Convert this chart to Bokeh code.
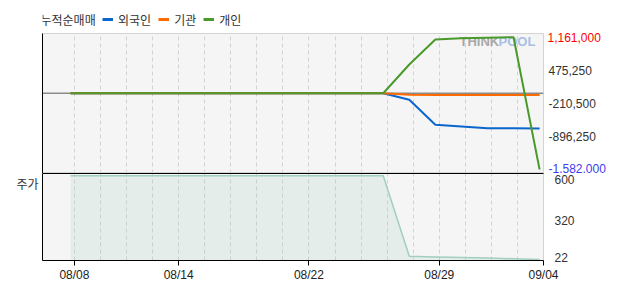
import numpy as np
from bokeh.plotting import figure
from bokeh.layouts import column
from bokeh.models import (Range1d, LinearAxis, FixedTicker, Span, Label, Legend,
                          LegendItem, Grid, NumeralTickFormatter)
from bokeh.embed import file_html
from bokeh.resources import INLINE

# ---------------- data ----------------
dates = ["08/08", "08/11", "08/12", "08/13", "08/14", "08/18", "08/19", "08/20",
         "08/21", "08/22", "08/25", "08/26", "08/27", "08/28", "08/29", "09/01",
         "09/02", "09/03", "09/04"]
labeled_dates = ["08/08", "08/14", "08/22", "08/29", "09/04"]

foreign = [0, 0, 0, 0, 0, 0, 0, 0, 0, 0, 0, 0, 0,
           -136000, -655000, -690000, -725000, -725000, -731000]
institution = [0, 0, 0, 0, 0, 0, 0, 0, 0, 0, 0, 0, 0,
               -30000, -36000, -38000, -38000, -38000, -38000]
individual = [0, 0, 0, 0, 0, 0, 0, 0, 0, 0, 0, 0, 0,
              596000, 1115000, 1142000, 1152000, 1161000, -1582000]
price = [600, 600, 600, 600, 600, 600, 600, 600, 600, 600, 600, 600, 600,
         44, 40, 36, 32, 27, 22]
price_ticks = [600, 320, 22]

series_names = ["외국인", "기관", "개인"]
title_text = "누적순매매"
price_title = "주가"

# ---------------- style / layout ----------------
KR = "Noto Sans CJK KR"
NUM = "Liberation Sans"
BLUE, ORANGE, GREEN = "#0a66cc", "#ff6a00", "#4a9a2b"
COLORS = [BLUE, ORANGE, GREEN]
BG = "#f5f5f5"
GRID = "#d2d2d2"
PRICE_C = "#a0cfbf"
TICK_OFF = 0.15
W, LEFT, RIGHT = 617, 42, 74
HEAD_H = 30                 # header strip (title + legend)
P1_H, P1_TOP = 143, 3       # upper panel canvas; frame starts 3px down
P2_H, P2_BOTTOM = 119, 32

x = list(range(len(dates)))
xr = Range1d(-1.075, len(dates) - 1 + TICK_OFF)
series = [foreign, institution, individual]

all_flow = foreign + institution + individual
fmax, fmin = max(all_flow), min(all_flow)
fspan = fmax - fmin
flow_range = Range1d(fmin - fspan * 0.030, fmax + fspan * 0.0285)
flow_ticks = list(np.linspace(fmax, fmin, 5))

pmax, pmin = max(price), min(price)
pspan = pmax - pmin
price_range = Range1d(pmin - pspan * 0.012, pmax + pspan * 0.026)

grid_ticks = [i + TICK_OFF for i in x]
label_ticks = [dates.index(d) + TICK_OFF for d in labeled_dates]


def bare_axis():
    return LinearAxis(ticker=FixedTicker(ticks=[]), axis_line_color="black",
                      major_tick_line_color=None, minor_tick_line_color=None,
                      major_tick_out=0, major_tick_in=0, minor_tick_out=0,
                      major_label_standoff=0)


# ---------------- header: title + legend ----------------
p0 = figure(width=W, height=HEAD_H, x_range=xr, y_range=flow_range,
            x_axis_type=None, y_axis_type=None,
            output_backend="svg", toolbar_location=None,
            min_border_left=0, min_border_right=0, min_border_top=0,
            min_border_bottom=0, outline_line_color=None,
            background_fill_color="white", border_fill_color="white")
# legend-only renderers (hidden) carrying each series' style
legend_items = []
for name, data, color in zip(series_names, series, COLORS):
    r = p0.line(x, data, line_color=color, line_width=3, visible=False)
    legend_items.append(LegendItem(label=name, renderers=[r]))
p0.add_layout(Legend(items=legend_items, orientation="horizontal", location=(60, 1),
                     padding=0, margin=0, spacing=7, glyph_width=11, glyph_height=20,
                     label_height=20, label_standoff=5, label_text_font=KR,
                     label_text_font_size="12px", label_text_color="#333333",
                     border_line_color=None, background_fill_alpha=0,
                     inactive_fill_alpha=0))
p0.add_layout(Label(x=40, y=19, x_units="canvas", y_units="canvas", text=title_text,
                    text_font=KR, text_font_size="12px", text_color="#333333",
                    text_baseline="middle"))

# ---------------- upper panel ----------------
p1 = figure(width=W, height=P1_H, x_range=xr, y_range=flow_range,
            x_axis_type=None, y_axis_type=None,
            output_backend="svg", toolbar_location=None,
            min_border_left=LEFT, min_border_right=RIGHT, min_border_top=P1_TOP,
            min_border_bottom=0, background_fill_color=BG,
            border_fill_color="white", outline_line_color="#d4d4d4")

p1.add_layout(Grid(dimension=0, ticker=FixedTicker(ticks=grid_ticks),
                   grid_line_color=GRID, grid_line_dash="4 3"))
p1.add_layout(bare_axis(), "left")

p1.add_layout(Span(location=0, dimension="width", line_color="#8c8c8c",
                   line_width=1.5, level="underlay"))

# watermark
p1.add_layout(Label(x=459, y=41 - HEAD_H, x_units="canvas", y_units="canvas",
                    text="THINK", text_font=NUM, text_font_style="bold",
                    text_font_size="13px", text_color="#a8a8a8",
                    text_baseline="middle", level="underlay"))
p1.add_layout(Label(x=498, y=41 - HEAD_H, x_units="canvas", y_units="canvas",
                    text="POOL", text_font=NUM, text_font_style="bold",
                    text_font_size="13px", text_color="#a9bfe8",
                    text_baseline="middle", level="underlay"))

for data, color in zip(series, COLORS):
    p1.line(x, data, line_color=color, line_width=2)

# right-hand value labels: middle (dark), top (red), bottom (blue).
# The three axes stack outward; the standoffs pull the red and blue labels
# back to the same column as the dark ones.
LBL_STANDOFF = 5
right_axes = [(flow_ticks[1:-1], "#333333", LBL_STANDOFF),
              (flow_ticks[:1], "#ff0000", -51),
              (flow_ticks[-1:], "#3c3cf0", -55)]
for ticks, color, standoff in right_axes:
    ax = LinearAxis(ticker=FixedTicker(ticks=ticks),
                    formatter=NumeralTickFormatter(format="0,0"),
                    axis_line_color=None, major_tick_line_color=None,
                    minor_tick_line_color=None, major_tick_out=0, major_tick_in=0,
                    minor_tick_out=0, major_label_standoff=standoff,
                    major_label_text_font=NUM, major_label_text_font_size="12px",
                    major_label_text_color=color)
    p1.add_layout(ax, "right")

# ---------------- lower panel ----------------
p2 = figure(width=W, height=P2_H, x_range=xr, y_range=price_range,
            x_axis_type=None, y_axis_type=None,
            output_backend="svg", toolbar_location=None,
            min_border_left=LEFT, min_border_right=RIGHT, min_border_top=0,
            min_border_bottom=P2_BOTTOM, background_fill_color=BG,
            border_fill_color="white", outline_line_color="#d4d4d4")

p2.add_layout(Grid(dimension=0, ticker=FixedTicker(ticks=grid_ticks),
                   grid_line_color=GRID, grid_line_dash="4 3"))

p2.varea(x=x, y1=0, y2=price, fill_color=PRICE_C, fill_alpha=0.2)
p2.line(x, price, line_color=PRICE_C, line_width=1.5)

xaxis = LinearAxis(ticker=FixedTicker(ticks=label_ticks),
                   major_label_overrides={t: d for t, d in zip(label_ticks, labeled_dates)},
                   axis_line_color="black", major_tick_line_color="black",
                   major_tick_out=5, major_tick_in=0, minor_tick_line_color=None,
                   major_label_standoff=2, major_label_text_font=NUM,
                   major_label_text_font_size="12px", major_label_text_color="#222222")
p2.add_layout(xaxis, "below")
p2.add_layout(bare_axis(), "above")

# price labels hang just below their value, kept inside the panel
ppx2 = (price_range.end - price_range.start) / (P2_H - P2_BOTTOM)
price_label_pos = [round(max(v - 4 * ppx2, price_range.start + 3 * ppx2), 2)
                   for v in price_ticks]
yaxis2 = LinearAxis(ticker=FixedTicker(ticks=price_label_pos),
                    major_label_overrides={p: str(v) for p, v in zip(price_label_pos, price_ticks)},
                    axis_line_color=None, major_tick_line_color=None,
                    minor_tick_line_color=None, major_label_standoff=5,
                    major_label_text_font=NUM, major_label_text_font_size="12px",
                    major_label_text_color="#333333")
p2.add_layout(yaxis2, "right")

title_pos = round(price_range.end - 10 * ppx2, 2)
left2 = LinearAxis(ticker=FixedTicker(ticks=[title_pos]),
                   major_label_overrides={title_pos: price_title},
                   axis_line_color="black", major_tick_line_color=None,
                   minor_tick_line_color=None, major_tick_out=0, major_tick_in=0,
                   major_label_standoff=4, major_label_text_font=KR,
                   major_label_text_font_size="12px", major_label_text_color="#333333")
p2.add_layout(left2, "left")

layout = column(p0, p1, p2, spacing=0)
open("out.html", "w").write(file_html(layout, INLINE))
